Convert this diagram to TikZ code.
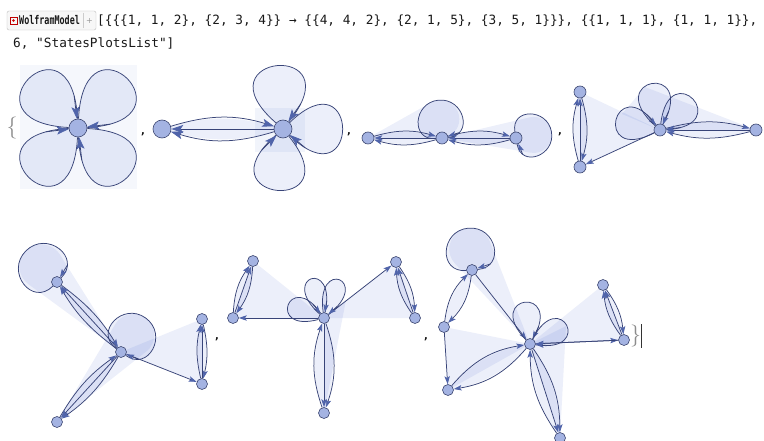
\documentclass[tikz,border=0pt]{standalone}
\usepackage{fontspec}
\newfontfamily\mono{DejaVu Sans Mono}
\newfontfamily\dvs{DejaVu Sans}
\usetikzlibrary{arrows.meta,backgrounds}
\definecolor{vfill}{RGB}{164,179,226}
\definecolor{vborder}{RGB}{60,70,112}
\definecolor{edgec}{RGB}{56,68,120}
\definecolor{arrc}{RGB}{80,100,170}
\definecolor{polyc}{RGB}{70,100,207}
\definecolor{txt}{RGB}{25,25,25}
\tikzset{
 vtx/.style={circle,draw=vborder,fill=vfill,line width=0.6pt,minimum size=#1,inner sep=0pt},
 eline/.style={draw=edgec,line width=0.75pt},
 conn/.style={eline,-{Stealth[length=8pt,width=5.4pt,inset=1.8pt,color=arrc,fill=arrc,scale=#1]}},
 conn/.default=1,
 poly/.style={fill=polyc,fill opacity=0.1},
 cma/.style={font=\dvs\bfseries\fontsize{10}{10}\selectfont,text=txt,inner sep=0pt},
}
\newcommand\petal[5][1]{%
 \pgfmathsetmacro\petD{#5/(0.75*cos(#4/2))}%
 \pgfmathsetmacro\petA{#3+#4/2}%
 \pgfmathsetmacro\petB{#3-#4/2}%
 \begin{pgfonlayer}{background}\fill[poly] (#2) .. controls +(\petA:\petD) and +(\petB:\petD) .. (#2);\end{pgfonlayer}%
 \draw[eline] (#2) .. controls +(\petA:\petD) and +(\petB:\petD) .. (#2) coordinate[pos=0.92] (#2tip);%
 \draw[conn=#1] (#2tip) -- (#2);}
\newcommand\cloop[5][1]{%
 \path (#2.center) ++(#3:2*#4) coordinate (#5);%
 \pgfmathsetmacro\lpA{#3+90}\pgfmathsetmacro\lpB{#3-90}%
 \begin{pgfonlayer}{background}\fill[poly] (#2) to[out=\lpA,in=\lpA,looseness=1.7] (#5) to[out=\lpB,in=\lpB,looseness=1.7] (#2);\end{pgfonlayer}%
 \draw[eline] (#2) to[out=\lpA,in=\lpA,looseness=1.7] (#5) to[out=\lpB,in=\lpB,looseness=1.7] coordinate[pos=0.8] (#2tip) (#2);%
 \draw[conn=#1] (#2tip) -- (#2);}
\newcommand\triple[4][1]{%
 \begin{pgfonlayer}{background}\fill[poly] (#2.center) to[bend left=#4] (#3.center) to[bend left=#4] (#2.center);\end{pgfonlayer}%
 \draw[conn=#1] (#2) to[bend left=#4] (#3);%
 \draw[conn=#1] (#3) -- (#2);%
 \draw[conn=#1] (#3) to[bend left=#4] (#2);}
\newcommand\pair[4][1]{%
 \begin{pgfonlayer}{background}\fill[poly] (#2.center) to[bend left=#4] (#3.center) to[bend left=#4] (#2.center);\end{pgfonlayer}%
 \draw[conn=#1] (#2) to[bend left=#4] (#3);%
 \draw[conn=#1] (#3) to[bend left=#4] (#2);}
\begin{document}
\begin{tikzpicture}[x=1pt,y=1pt]
\useasboundingbox (0,0) rectangle (764,-441);
\begin{pgfonlayer}{background}\fill[white] (0,0) rectangle (764,-441);\end{pgfonlayer}
% ---------- header ----------
\draw[draw=black!25,fill=black!3,rounded corners=2pt] (7,-11) rectangle (96,-30);
\draw[black!20] (83,-13) -- (83,-28);
\node[draw=red!75!black,line width=0.6pt,minimum size=7pt,inner sep=0pt] (icon) at (13.5,-20.5) {};
\fill[red!80!black] (icon.center) circle[radius=1.3];
\node[anchor=west,inner sep=0pt,text=txt] (wm) at (19,-20.5) {\scalebox{0.7}[1]{\mono\bfseries\fontsize{12}{14}\selectfont WolframModel}};
\node[text=black!40,inner sep=0pt] (plus) at (89.5,-20.5) {\dvs\fontsize{8}{8}\selectfont +};
\node[anchor=base west,inner sep=0pt,text=txt] (l1) at (97,-24.6) {\mono\fontsize{12.75}{15}\selectfont [\{\{\{1, 1, 2\}, \{2, 3, 4\}\} → \{\{4, 4, 2\}, \{2, 1, 5\}, \{3, 5, 1\}\}\}, \{\{1, 1, 1\}, \{1, 1, 1\}\},};
\node[anchor=base west,inner sep=0pt,text=txt] (l2) at (13,-47.6) {\mono\fontsize{12.75}{15}\selectfont 6, "StatesPlotsList"]};
% braces, commas
\node[text=black!45,inner sep=0pt] (lbrace) at (12,-128) {\fontsize{22}{22}\selectfont\{};
\node[text=black!45,inner sep=0pt] (rbrace) at (635.5,-336) {\fontsize{22}{22}\selectfont\}};
\draw[line width=0.9pt,black!80] (641.5,-324) -- (641.5,-348);
\node[cma] (c1) at (143,-134) {,};
\node[cma] (c2) at (349,-134) {,};
\node[cma] (c3) at (560,-134) {,};
\node[cma] (c4) at (217,-339) {,};
\node[cma] (c5) at (426,-339) {,};
% ---------- state 1 ----------
\node[vtx=18] (s1) at (78,-128) {};
\begin{pgfonlayer}{background}\fill[polyc,fill opacity=0.05] (20,-65) rectangle (137,-189);\end{pgfonlayer}
\petal[1.5]{s1}{135}{84}{68}
\petal[1.5]{s1}{45}{84}{68}
\petal[1.5]{s1}{-45}{84}{68}
\petal[1.5]{s1}{225}{84}{68}
% ---------- state 2 ----------
\node[vtx=18] (s2a) at (162,-129) {};
\node[vtx=18] (s2b) at (283,-129) {};
\begin{pgfonlayer}{background}\fill[polyc,fill opacity=0.07] (255,-108) rectangle (305,-152);\end{pgfonlayer}
\triple[1.5]{s2a}{s2b}{17}
\petal[1.5]{s2b}{95}{88}{62}
\petal[1.5]{s2b}{0}{88}{58}
\petal[1.5]{s2b}{265}{88}{60}
% ---------- state 3 ----------
\node[vtx=12] (s3a) at (368,-138) {};
\node[vtx=12] (s3b) at (442,-138) {};
\node[vtx=12] (s3c) at (516,-138) {};
\begin{pgfonlayer}{background}
\fill[poly] (s3a.center) -- (440.3,-138.1) arc[start angle=-90.1,end angle=119.3,radius=19] -- cycle;
\fill[poly] (s3b.center) -- (529.6,-117.4) arc[start angle=103.2,end angle=-99.4,radius=18] -- cycle;
\end{pgfonlayer}
\triple{s3a}{s3b}{16}
\triple{s3b}{s3c}{16}
\cloop{s3b}{95}{19}{s3bf}
\cloop{s3c}{10}{18}{s3cf}
% ---------- state 4 ----------
\node[vtx=12] (s4a) at (580,-92) {};
\node[vtx=12] (s4b) at (580,-167) {};
\node[vtx=12] (s4c) at (660,-130) {};
\node[vtx=12] (s4d) at (756,-130) {};
\begin{pgfonlayer}{background}
\fill[poly] (s4a.center) -- (s4c.center) -- (s4b.center) -- cycle;
\fill[poly] (s4c.center) -- (622,-114) -- (645,-87) -- (s4d.center) -- cycle;
\end{pgfonlayer}
\triple{s4a}{s4b}{16}
\draw[conn] (s4c) -- (s4b);
\triple{s4c}{s4d}{15}
\petal{s4c}{167}{80}{44}
\petal{s4c}{100}{77}{46}
\petal{s4c}{43}{80}{44}
% ---------- state 5 ----------
\node[vtx=11] (s5a) at (57,-282) {};
\node[vtx=11] (s5c) at (121,-352) {};
\node[vtx=11] (s5e) at (57,-422) {};
\node[vtx=11] (s5r) at (202,-319) {};
\node[vtx=11] (s5s) at (202,-384) {};
\begin{pgfonlayer}{background}
\fill[poly] (s5c.center) -- (s5r.center) -- (s5s.center) -- cycle;
\fill[poly] (s5c.center) -- (60.0,-254.7) arc[start angle=32.1,end angle=233.7,radius=22] -- cycle;
\fill[poly] (s5e.center) -- (115.3,-324.2) arc[start angle=149.2,end angle=-51.8,radius=21] -- cycle;
\end{pgfonlayer}
\triple{s5a}{s5c}{11}
\triple{s5e}{s5c}{12}
\draw[conn] (s5c) -- (s5s);
\triple{s5r}{s5s}{13}
\cloop{s5a}{135}{22}{s5af}
\cloop{s5c}{54}{21}{s5cf}
% ---------- state 6 ----------
\node[vtx=11] (s6a) at (253,-261) {};
\node[vtx=11] (s6b) at (233,-318) {};
\node[vtx=11] (s6c) at (324,-318) {};
\node[vtx=11] (s6d) at (396,-262) {};
\node[vtx=11] (s6e) at (415,-318) {};
\node[vtx=11] (s6f) at (324,-413) {};
\begin{pgfonlayer}{background}
\fill[poly] (s6a.center) -- (s6c.center) -- (s6b.center) -- cycle;
\fill[poly] (s6d.center) -- (s6e.center) -- (s6c.center) -- cycle;
\fill[poly] (s6c.center) -- (346,-300) -- (s6f.center) -- cycle;
\end{pgfonlayer}
\triple{s6a}{s6b}{16}
\triple{s6d}{s6e}{16}
\triple{s6f}{s6c}{19}
\draw[conn] (s6c) -- (s6b);
\draw[conn] (s6c) -- (s6d);
\petal{s6c}{160}{70}{37}
\petal{s6c}{108}{60}{40}
\petal{s6c}{68}{60}{40}
% ---------- state 7 ----------
\node[vtx=11] (s7a) at (472,-270) {};
\node[vtx=11] (s7b) at (444,-327) {};
\node[vtx=11] (s7c) at (448,-390) {};
\node[vtx=11] (s7m) at (530,-344) {};
\node[vtx=11] (s7d) at (603,-285) {};
\node[vtx=11] (s7e) at (624,-340) {};
\node[vtx=11] (s7f) at (560,-438) {};
\begin{pgfonlayer}{background}
\fill[poly] (s7m.center) -- (s7d.center) -- (s7e.center) -- cycle;
\fill[poly] (s7b.center) -- (s7m.center) -- (s7c.center) -- cycle;
\fill[poly] (s7m.center) -- (489.8,-241.4) arc[start angle=21.4,end angle=223,radius=21] -- cycle;
\fill[poly] (s7m.center) -- (566,-326) -- (s7f.center) -- cycle;
\end{pgfonlayer}
\pair{s7a}{s7b}{19}
\draw[conn] (s7b) -- (s7c);
\draw[conn] (s7a) -- (s7m);
\pair{s7c}{s7m}{20}
\draw[conn] (s7m) -- (s7e);
\draw[conn] (s7e) -- (s7m);
\triple{s7d}{s7e}{15}
\triple{s7f}{s7m}{17}
\cloop{s7a}{95}{21}{s7af}
\petal{s7m}{97}{74}{41}
\petal{s7m}{27}{71}{40}
\end{tikzpicture}
\end{document}
